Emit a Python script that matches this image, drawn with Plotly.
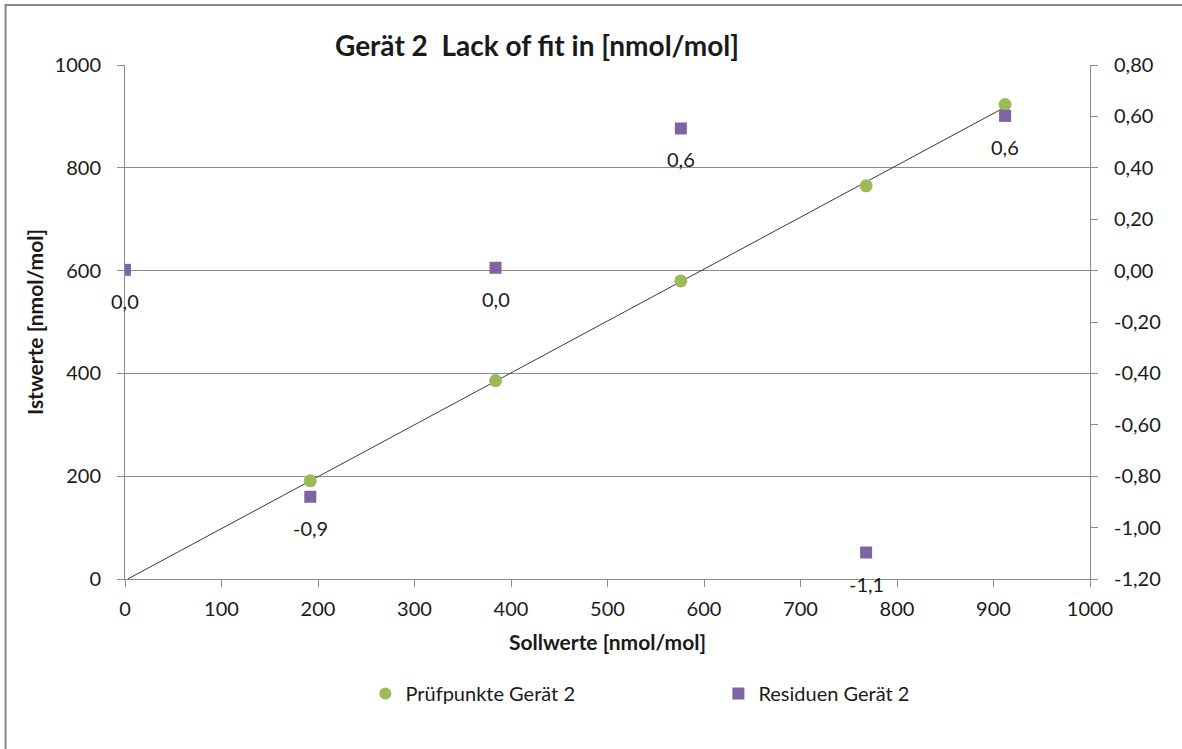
import numpy as np
import plotly.graph_objects as go

# ---- data ----
soll_pruef = [192, 384, 576, 768, 912]
ist_pruef = [191, 386, 580, 765, 923]
soll_resid = [0, 192, 384, 576, 768, 912]
residuen = [0.003, -0.88, 0.011, 0.553, -1.097, 0.602]

x_ticks = [0, 100, 200, 300, 400, 500, 600, 700, 800, 900, 1000]
y_ticks = [0, 200, 400, 600, 800, 1000]
y2_ticks = [0.8, 0.6, 0.4, 0.2, 0.0, -0.2, -0.4, -0.6, -0.8, -1.0, -1.2]
y2_ticktext = ["0,80", "0,60", "0,40", "0,20", "0,00", "-0,20", "-0,40",
               "-0,60", "-0,80", "-1,00", "-1,20"]

GREEN = "#9BBB59"
PURPLE = "#8064A2"
GRID = "#8C8C8C"
TXT = "#1a1a1a"
FONT = "Lato"
FS = 20

# linear trend line of the check points (fit computed from data)
slope, intercept = np.polyfit(soll_pruef, ist_pruef, 1)
x_start = -intercept / slope
trend_x = [x_start, max(soll_pruef)]
trend_y = [slope * v + intercept for v in trend_x]

fig = go.Figure()
fig.add_trace(go.Scatter(
    x=trend_x, y=trend_y, mode="lines",
    line=dict(color="#3a3a3a", width=1), showlegend=False, hoverinfo="skip"))
fig.add_trace(go.Scatter(
    x=soll_pruef, y=ist_pruef, mode="markers", name="Prüfpunkte Gerät 2",
    marker=dict(color=GREEN, size=13, symbol="circle")))
fig.add_trace(go.Scatter(
    x=soll_resid, y=residuen, mode="markers", name="Residuen Gerät 2",
    yaxis="y2", marker=dict(color=PURPLE, size=12, symbol="square")))

def fmt(v):
    s = f"{v:.1f}".replace(".", ",")
    return "0,0" if s == "-0,0" else s

for xv, rv in zip(soll_resid, residuen):
    fig.add_annotation(x=xv, y=rv, xref="x", yref="y2", text=fmt(rv),
                       showarrow=False, yshift=-31,
                       font=dict(family=FONT, size=FS, color=TXT))

fig.add_annotation(
    xref="paper", yref="paper", x=(537 - 124.5) / 965.5, y=1 + (65 - 45) / 514.5,
    text="<b>Gerät 2  Lack of fit in [nmol/mol]</b>", showarrow=False,
    xanchor="center", yanchor="middle",
    font=dict(family=FONT, size=28, color=TXT))

fig.update_layout(
    width=1182, height=749,
    margin=dict(l=124.5, r=92, t=65, b=169.5),
    paper_bgcolor="white", plot_bgcolor="white",
    font=dict(family=FONT, size=FS, color=TXT),
    showlegend=True,
    legend=dict(orientation="h", x=(365 - 124.5) / 965.5, y=-(694 - 579.5) / 514.5,
                xanchor="left", yanchor="middle", entrywidth=308,
                font=dict(family=FONT, size=FS, color=TXT),
                itemsizing="constant"),
    xaxis=dict(range=[0, 1000], tickvals=x_ticks, showgrid=False,
               showline=True, linecolor=GRID, linewidth=1,
               ticks="outside", ticklen=7, tickcolor=GRID,
               zeroline=False, ticklabelstandoff=5,
               title=dict(text="<b>Sollwerte [nmol/mol]</b>",
                          font=dict(family=FONT, size=21, color=TXT), standoff=16)),
    yaxis=dict(range=[0, 1000], tickvals=y_ticks, showgrid=True,
               gridcolor=GRID, gridwidth=1,
               showline=True, linecolor=GRID, linewidth=1,
               ticks="outside", ticklen=7, tickcolor=GRID,
               zeroline=False, ticklabelstandoff=12,
               title=dict(text="<b>Istwerte [nmol/mol]</b>",
                          font=dict(family=FONT, size=21, color=TXT), standoff=5)),
    yaxis2=dict(range=[-1.2, 0.8], overlaying="y", side="right",
                tickvals=y2_ticks, ticktext=y2_ticktext, showgrid=False,
                showline=True, linecolor=GRID, linewidth=1,
                ticks="outside", ticklen=7, tickcolor=GRID,
                zeroline=False, ticklabelstandoff=12),
    shapes=[dict(type="rect", xref="paper", yref="paper",
                 x0=-(124.5 - 5) / 965.5, x1=1 + (1190 - 1090) / 965.5,
                 y0=-(760 - 579.5) / 514.5, y1=1 + (65 - 5) / 514.5,
                 line=dict(color="#888888", width=2), fillcolor="rgba(0,0,0,0)",
                 layer="below")],
)

fig.write_html("out.html")
